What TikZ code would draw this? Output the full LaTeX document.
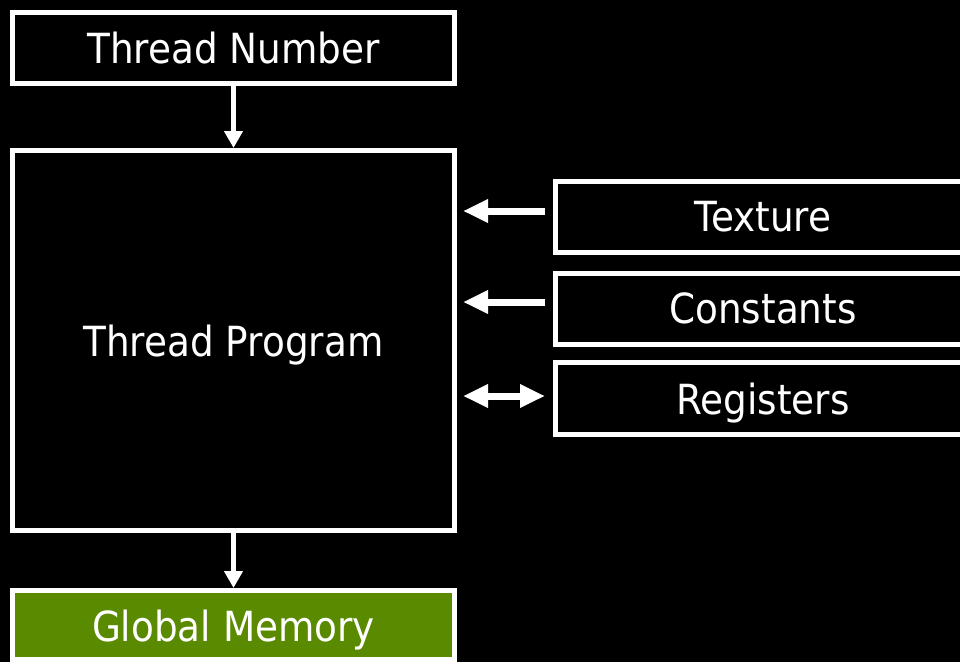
\documentclass[tikz,border=0pt]{standalone}
\usepackage{fontspec}
\setmainfont{DejaVu Sans}[FakeStretch=0.9]
\usetikzlibrary{arrows.meta}
\definecolor{nvgreen}{HTML}{5A8A00}
\begin{document}
\begin{tikzpicture}[x=1pt,y=-1pt,
  box/.style={draw=white,line width=5pt,fill=black,inner sep=0pt,text=white,
    font=\fontsize{41.5}{46}\selectfont},
  lowtext/.style={text height=38pt,text depth=6.5pt},
  varrow/.style={draw=white,line width=4.5pt,-{Triangle[length=17pt,width=18pt]}},
  harrow/.style={draw=white,line width=7pt,-{Triangle[length=25pt,width=22pt]}},
  darrow/.style={draw=white,line width=7pt,{Triangle[length=25pt,width=22pt]}-{Triangle[length=25pt,width=22pt]}}]
\fill[black] (0,0) rectangle (960,662);
\useasboundingbox (0,0) rectangle (960,662);
\clip (0,0) rectangle (960,662);
\node[box,minimum width=442pt,minimum height=71pt] (TN) at (233.5,48) {Thread Number};
\node[box,lowtext,minimum width=442pt,minimum height=380pt] (TP) at (233.5,340.5) {Thread Program};
\node[box,minimum width=415pt,minimum height=71pt] (Tex) at (763,216.5) {Texture};
\node[box,minimum width=415pt,minimum height=71pt] (Con) at (763,308.5) {Constants};
\node[box,lowtext,minimum width=415pt,minimum height=72pt] (Reg) at (763,398.5) {Registers};
\node[box,fill=nvgreen,minimum width=442pt,minimum height=69pt,text height=40pt,text depth=6.5pt] (GM) at (233.5,625) {Global Memory};
\draw[varrow] (TN.south) -- (TP.north);
\draw[varrow] (TP.south) -- (GM.north);
\draw[harrow] ([xshift=-8pt,yshift=5.5pt]Tex.west) -- ([xshift=6pt,yshift=5.5pt]Tex.west -| TP.east);
\draw[harrow] ([xshift=-8pt,yshift=6.5pt]Con.west) -- ([xshift=6pt,yshift=6.5pt]Con.west -| TP.east);
\draw[darrow] ([xshift=-8pt,yshift=2.5pt]Reg.west) -- ([xshift=6pt,yshift=2.5pt]Reg.west -| TP.east);
\end{tikzpicture}
\end{document}
